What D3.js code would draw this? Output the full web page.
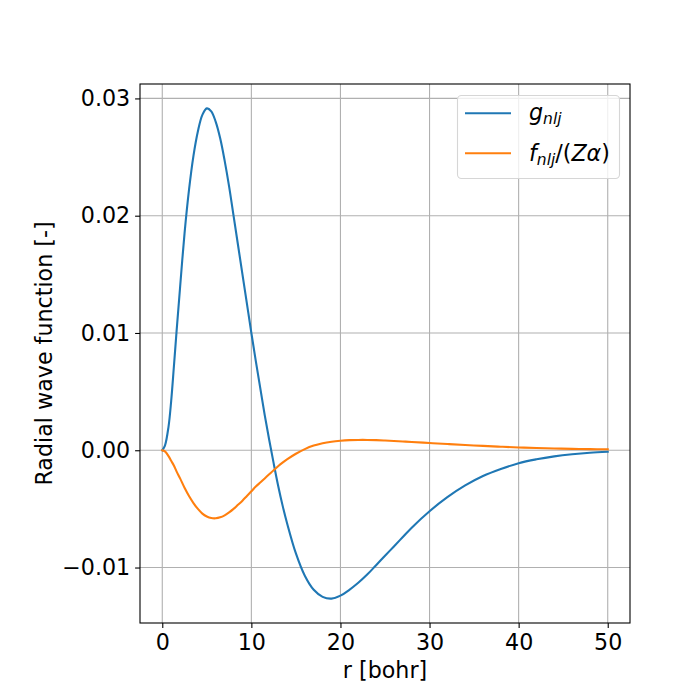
<!DOCTYPE html>
<html>
<head>
<meta charset="utf-8">
<title>Radial wave function</title>
<script src="https://d3js.org/d3.v7.min.js"></script>
<style>
  body { margin: 0; background: #fff; }
  svg { font-family: "DejaVu Sans", sans-serif; }
</style>
</head>
<body>
<svg width="700" height="700"></svg>
<script>
// radius grid [bohr] and the two components
var rValues = [0, 0.3, 0.7, 1, 1.3, 1.6, 2, 2.5, 3, 3.5, 4, 4.5, 5, 5.5, 6, 6.5, 7, 7.5, 8, 8.5,
  9, 9.5, 10, 10.5, 11, 11.5, 12, 12.5, 13, 13.5, 14, 15, 16, 17, 18, 19, 20, 21, 22, 23,
  24, 25, 26, 27, 28, 30, 32, 34, 36, 38, 40, 42, 44, 46, 48, 50];

var gValues = [0, 0.0004, 0.0020, 0.0042, 0.0071, 0.0101, 0.0139, 0.0185, 0.0222, 0.0251,
  0.0272, 0.0286, 0.02915, 0.0289, 0.0280, 0.0266, 0.0247, 0.0225, 0.0200, 0.0175,
  0.0150, 0.0125, 0.0100, 0.0076, 0.0053, 0.0030, 0.0009, -0.0011, -0.0030, -0.0047,
  -0.0062, -0.0088, -0.0107, -0.0119, -0.0125, -0.01265, -0.0124, -0.0119, -0.0113, -0.0106,
  -0.0098, -0.0090, -0.0082, -0.0074, -0.0066, -0.0052, -0.0040, -0.0030, -0.0022, -0.0016,
  -0.0011, -0.00077, -0.00052, -0.00034, -0.00021, -0.00013];

var fValues = [0, -0.0001, -0.0005, -0.0009, -0.0013, -0.0018, -0.0024, -0.0032, -0.0039, -0.0045,
  -0.0050, -0.0054, -0.00565, -0.00578, -0.0058, -0.00572, -0.00555, -0.0053, -0.0050, -0.00465,
  -0.0043, -0.0039, -0.0035, -0.0031, -0.00275, -0.0024, -0.00205, -0.0017, -0.00137, -0.00106,
  -0.00078, -0.0003, 0.0001, 0.0004, 0.0006, 0.00073, 0.00081, 0.00086, 0.00088, 0.00088,
  0.00086, 0.00083, 0.00079, 0.00075, 0.00071, 0.00062, 0.00053, 0.00045, 0.00037, 0.0003,
  0.00024, 0.00019, 0.00015, 0.00012, 0.0001, 0.00008];

var xTicks = [0, 10, 20, 30, 40, 50];
var yTicks = [-0.01, 0, 0.01, 0.02, 0.03];

var svg = d3.select("svg"),
    margin = {top: 84, right: 70, bottom: 77, left: 140},
    width = +svg.attr("width") - margin.left - margin.right,
    height = +svg.attr("height") - margin.top - margin.bottom,
    g = svg.append("g").attr("transform", "translate(" + margin.left + "," + margin.top + ")");

var fontPx = 22.2;

var x = d3.scaleLinear().domain([-2.5, 52.5]).range([0, width]);
var y = d3.scaleLinear().domain([-0.01473, 0.03123]).range([height, 0]);

// grid
g.append("g").selectAll("line").data(xTicks).enter().append("line")
  .attr("x1", function(d) { return x(d); }).attr("x2", function(d) { return x(d); })
  .attr("y1", 0).attr("y2", height)
  .attr("stroke", "#b0b0b0").attr("stroke-width", 1.1);
g.append("g").selectAll("line").data(yTicks).enter().append("line")
  .attr("y1", function(d) { return y(d); }).attr("y2", function(d) { return y(d); })
  .attr("x1", 0).attr("x2", width)
  .attr("stroke", "#b0b0b0").attr("stroke-width", 1.1);

// curves
var pts = rValues.map(function(r, i) { return {r: r, g: gValues[i], f: fValues[i]}; });

var lineG = d3.line().x(function(d) { return x(d.r); }).y(function(d) { return y(d.g); })
  .curve(d3.curveCatmullRom.alpha(0.5));
var lineF = d3.line().x(function(d) { return x(d.r); }).y(function(d) { return y(d.f); })
  .curve(d3.curveCatmullRom.alpha(0.5));

g.append("path").datum(pts).attr("d", lineG)
  .attr("fill", "none").attr("stroke", "#1f77b4").attr("stroke-width", 2.1)
  .attr("stroke-linejoin", "round").attr("stroke-linecap", "square");
g.append("path").datum(pts).attr("d", lineF)
  .attr("fill", "none").attr("stroke", "#ff7f0e").attr("stroke-width", 2.1)
  .attr("stroke-linejoin", "round").attr("stroke-linecap", "square");

// axes
var xAxis = g.append("g").attr("transform", "translate(0," + height + ")")
  .call(d3.axisBottom(x).tickValues(xTicks).tickSize(4.9).tickPadding(4.9).tickFormat(d3.format("d")));
var yAxis = g.append("g")
  .call(d3.axisLeft(y).tickValues(yTicks).tickSize(4.9).tickPadding(4.9)
    .tickFormat(function(d) { return d3.format(".2f")(d).replace("-", "\u2212"); }));

[xAxis, yAxis].forEach(function(a) {
  a.select(".domain").remove();
  a.selectAll(".tick line").attr("stroke", "#000").attr("stroke-width", 1.1);
  a.selectAll(".tick text").attr("fill", "#000")
    .style("font-family", "DejaVu Sans").style("font-size", fontPx + "px");
});
xAxis.selectAll(".tick text").attr("dy", "0.76em");

// frame
g.append("rect").attr("x", 0).attr("y", 0).attr("width", width).attr("height", height)
  .attr("fill", "none").attr("stroke", "#000").attr("stroke-width", 1.1);

// axis labels
svg.append("text")
  .attr("x", margin.left + width / 2).attr("y", 678)
  .attr("text-anchor", "middle").style("font-size", fontPx + "px")
  .text("r [bohr]");
svg.append("text")
  .attr("transform", "translate(52," + (margin.top + height / 2) + ") rotate(-90)")
  .attr("text-anchor", "middle").style("font-size", fontPx + "px")
  .text("Radial wave function [-]");

// legend
var legend = svg.append("g");
legend.append("rect")
  .attr("x", 457.5).attr("y", 95.5).attr("width", 162).attr("height", 83)
  .attr("rx", 4).attr("fill", "#fff").attr("fill-opacity", 0.8)
  .attr("stroke", "#d6d6d6").attr("stroke-width", 1.1);

var legendItems = [
  {color: "#1f77b4", y: 113.3},
  {color: "#ff7f0e", y: 153.3}
];
legend.selectAll("line").data(legendItems).enter().append("line")
  .attr("x1", 465).attr("x2", 511)
  .attr("y1", function(d) { return d.y; }).attr("y2", function(d) { return d.y; })
  .attr("stroke", function(d) { return d.color; }).attr("stroke-width", 2.1);

var subPx = 15.5;
var t1 = legend.append("text").attr("x", 529).attr("y", 119.5).style("font-size", fontPx + "px");
t1.append("tspan").style("font-style", "italic").text("g");
t1.append("tspan").style("font-style", "italic").style("font-size", subPx + "px")
  .attr("dy", 4).text("nlj");

var t2 = legend.append("text").attr("x", 529).attr("y", 161).style("font-size", fontPx + "px");
t2.append("tspan").style("font-style", "italic").text("f");
t2.append("tspan").style("font-style", "italic").style("font-size", subPx + "px")
  .attr("dy", 4).text("nlj");
t2.append("tspan").attr("dy", -4).text("/(");
t2.append("tspan").style("font-style", "italic").text("Z\u03b1");
t2.append("tspan").text(")");
</script>
</body>
</html>
